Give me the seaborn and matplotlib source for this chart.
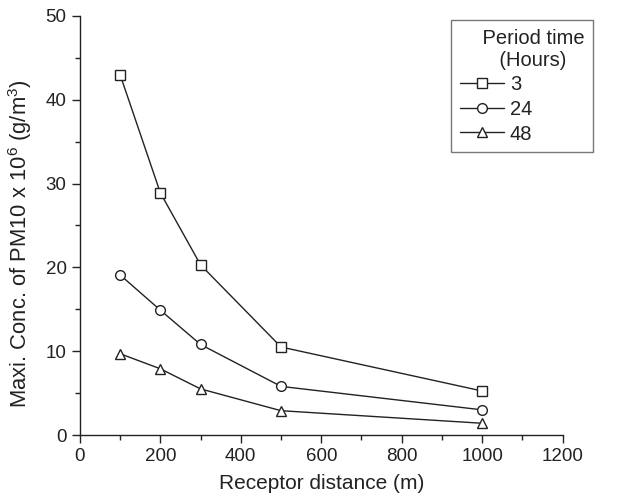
import matplotlib
matplotlib.use("Agg")
import matplotlib.pyplot as plt
import seaborn as sns
import pandas as pd
from matplotlib.ticker import MultipleLocator

distance = [100, 200, 300, 500, 1000]
conc_3h = [43.0, 28.9, 20.3, 10.5, 5.25]
conc_24h = [19.1, 14.9, 10.8, 5.8, 3.0]
conc_48h = [9.7, 7.9, 5.5, 2.9, 1.4]
periods = ["3", "24", "48"]

df = pd.DataFrame({
    "distance": distance * 3,
    "conc": conc_3h + conc_24h + conc_48h,
    "period": [periods[0]] * 5 + [periods[1]] * 5 + [periods[2]] * 5,
})

sns.set_style("ticks")
plt.rcParams["font.family"] = ["Liberation Sans", "DejaVu Sans"]
plt.rcParams["mathtext.fontset"] = "custom"
plt.rcParams["mathtext.rm"] = "Liberation Sans"
plt.rcParams["mathtext.it"] = "Liberation Sans"

fig = plt.figure(figsize=(6.19, 4.98), dpi=100)
ax = fig.add_axes([0.129, 0.1265, 0.78, 0.8415])

line_col = "#222222"
sns.lineplot(data=df, x="distance", y="conc", hue="period", style="period",
             palette=[line_col] * 3, markers=["s", "o", "^"], dashes=False,
             markersize=7, markerfacecolor="white", markeredgecolor=line_col,
             markeredgewidth=1.0, linewidth=1.0, ax=ax, legend=True)

ax.set_xlim(0, 1200)
ax.set_ylim(0, 50)
ax.xaxis.set_major_locator(MultipleLocator(200))
ax.xaxis.set_minor_locator(MultipleLocator(100))
ax.yaxis.set_major_locator(MultipleLocator(10))
ax.yaxis.set_minor_locator(MultipleLocator(5))
ax.tick_params(which="major", direction="out", length=6, width=1, labelsize=13.5, colors="#222222")
ax.tick_params(which="minor", direction="out", length=3.5, width=1, colors="#222222")
for s in ["top", "right"]:
    ax.spines[s].set_visible(False)
for s in ["left", "bottom"]:
    ax.spines[s].set_linewidth(1)
    ax.spines[s].set_color("#222222")

ax.set_xlabel("Receptor distance (m)", fontsize=15, color="#222222", labelpad=6)
ax.set_ylabel(r"Maxi. Conc. of PM10 x 10$^{6}$ (g/m$^{3}$)", fontsize=15.8, color="#222222")
ax.yaxis.set_label_coords(-0.094, 0.456)

handles, labels = ax.get_legend_handles_labels()
leg = ax.legend(handles, labels, title="    Period time\n       (Hours)", loc="upper right",
                bbox_to_anchor=(1.062, 0.99), borderaxespad=0, frameon=True, fancybox=False,
                fontsize=14.5, title_fontsize=14.5, handlelength=2.2, handletextpad=0.3,
                labelspacing=0.28, borderpad=0.42)
leg.get_frame().set_edgecolor("#555555")
leg.get_frame().set_linewidth(1.0)
leg._legend_box.align = "left"
leg.get_title().set_multialignment("left")
leg.get_title().set_color("#222222")
for t in leg.get_texts():
    t.set_color("#222222")
for h in leg.legend_handles:
    h.set_markerfacecolor("white")
    h.set_markeredgecolor(line_col)
    h.set_color(line_col)
    h.set_markersize(7)

fig.savefig("out.png", dpi=100)
